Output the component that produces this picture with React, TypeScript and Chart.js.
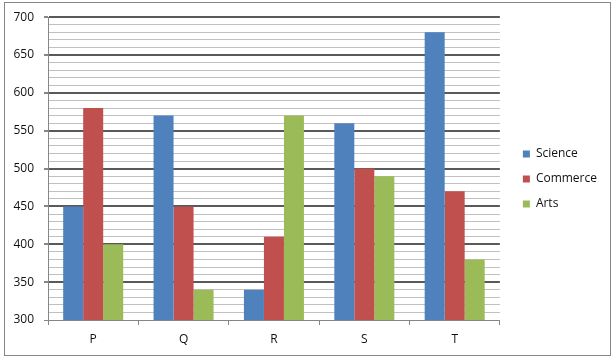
import React, { useEffect, useRef } from "react";
import { Chart, registerables } from "chart.js";

Chart.register(...registerables);

const categories = ["P", "Q", "R", "S", "T"];
const science = [450, 570, 340, 560, 680];
const commerce = [580, 450, 410, 500, 470];
const arts = [400, 340, 570, 490, 380];
const seriesNames = ["Science", "Commerce", "Arts"];
const seriesColors = ["#4F81BD", "#C0504D", "#9BBB59"];
const yMin = 300;
const yMax = 700;
const yMinorStep = 10;
const yMajorStep = 50;

export default function App() {
  const ref = useRef<HTMLCanvasElement>(null);
  useEffect(() => {
    if (!ref.current) return;
    const font = { family: "'Open Sans', 'Liberation Sans', sans-serif", size: 12 };
    const chart = new Chart(ref.current, {
      type: "bar",
      data: {
        labels: categories,
        datasets: [science, commerce, arts].map((d, i) => ({
          label: seriesNames[i],
          data: d,
          backgroundColor: seriesColors[i],
          borderWidth: 0,
          yAxisID: "y",
          categoryPercentage: 0.664,
          barPercentage: 1,
        })),
      },
      options: {
        animation: false,
        responsive: false,
        maintainAspectRatio: false,
        layout: { padding: { left: 0, top: 17, right: 7, bottom: 10 } },
        plugins: {
          tooltip: { enabled: false },
          legend: {
            position: "right",
            align: "start",
            title: {
              display: true,
              text: " ",
              font: { size: 12 },
              padding: { top: 103.6, bottom: 0 },
            },
            labels: {
              boxWidth: 7,
              boxHeight: 7,
              padding: 13,
              color: "#111",
              font,
            },
          },
        },
        scales: {
          x: {
            grid: {
              drawOnChartArea: false,
              drawTicks: true,
              tickLength: 5,
              color: "#868686",
              offset: true,
            },
            border: { color: "#868686", width: 1 },
            ticks: { color: "#111", font, padding: 7 },
            afterFit: (s: any) => {
              s.height = 31;
            },
          },
          y: {
            min: yMin,
            max: yMax,
            grid: {
              color: (c: any) =>
                c.tick.value === yMin ? "#868686" : c.tick.value % yMajorStep === 0 ? "#595959" : "#c0c0c0",
              lineWidth: (c: any) => (c.tick.value % yMajorStep === 0 && c.tick.value !== yMin ? 2 : 1),
              tickColor: (c: any) => (c.tick.value % yMajorStep === 0 ? "#868686" : "rgba(0,0,0,0)"),
              tickLength: 4,
            },
            border: { color: "#868686", width: 1 },
            ticks: {
              stepSize: yMinorStep,
              autoSkip: false,
              color: "#111",
              font,
              padding: 10,
              callback: (v: any) => (Number(v) % yMajorStep === 0 ? String(v) : ""),
            },
            afterFit: (s: any) => {
              s.width = 48;
            },
          },
          yR: {
            type: "linear",
            position: "right",
            display: true,
            grid: { display: false, drawTicks: false },
            border: { display: false },
            ticks: { display: false },
            afterFit: (s: any) => {
              s.width = 10;
            },
          },
        },
      },
    } as any);
    return () => chart.destroy();
  }, []);
  return (
    <div style={{ position: "absolute", left: 0, top: 0, width: 614, height: 361 }}>
      <div
        style={{
          position: "absolute",
          left: 4,
          top: 2,
          width: 607,
          height: 354,
          boxSizing: "border-box",
          border: "1px solid #868686",
        }}
      />
      <canvas ref={ref} width={614} height={361} style={{ position: "absolute", left: 0, top: 0 }} />
    </div>
  );
}
